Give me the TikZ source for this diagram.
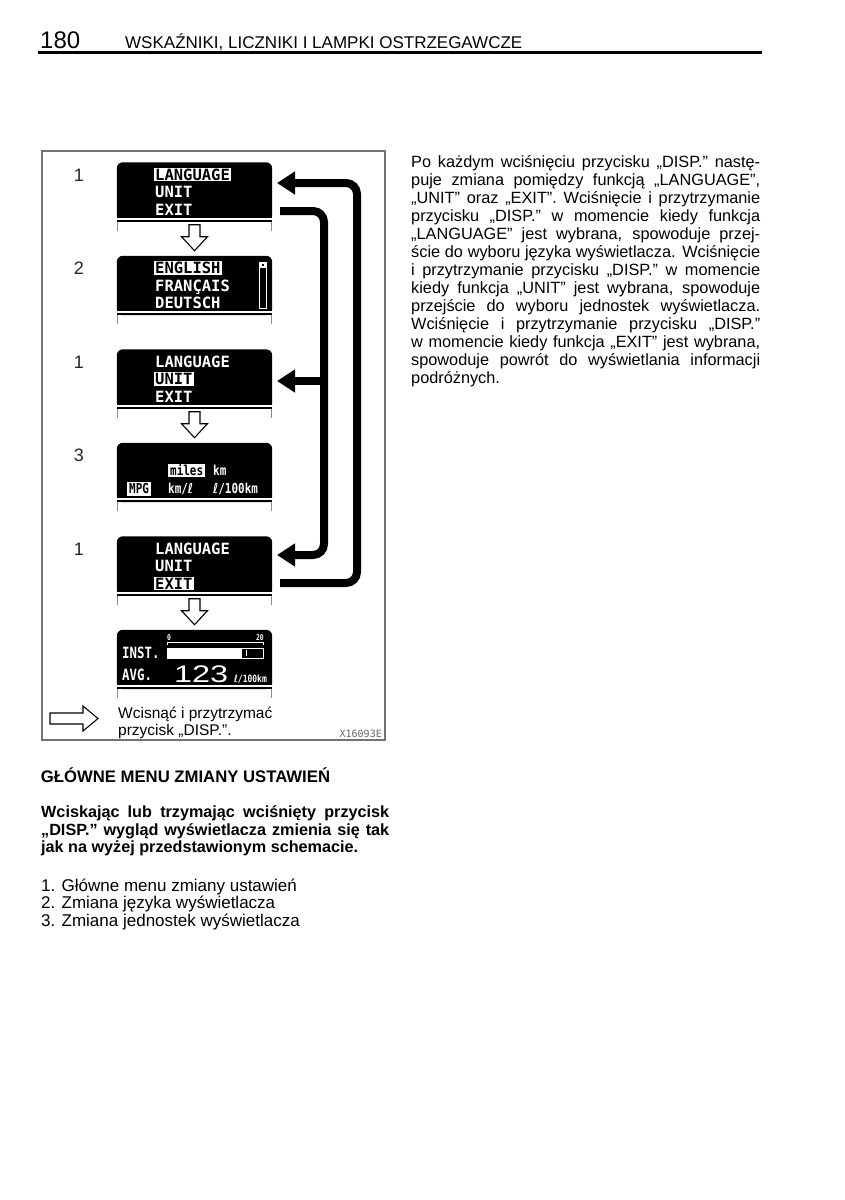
\documentclass[tikz,border=0pt]{standalone}
\usepackage{fontspec}
\usepackage{graphicx}
\setmainfont{Liberation Sans}
\newfontfamily\lcd{DejaVu Sans Mono}
\newfontfamily\lcdn{DejaVu Sans Mono}[FakeStretch=0.8]
\newfontfamily\lcdl{DejaVu Sans}[FakeStretch=0.8]
\newcommand\myell{{\lcdl\bfseries ℓ}}
\usetikzlibrary{arrows.meta}
\newcommand\jline[2]{\hbox to #1{#2}}
\begin{document}
\begin{tikzpicture}[x=1pt,y=-1pt,
  scr/.style={minimum width=155pt,minimum height=59pt,inner sep=0pt},
  lt/.style={anchor=base west,inner xsep=1.5pt,inner ysep=0.8pt,text=white,
     font={\lcd\bfseries\fontsize{15.5}{16}\selectfont},text height=11.3pt,text depth=0.4pt},
  hl/.style={lt,fill=white,text=black},
  lts/.style={anchor=base west,inner xsep=2pt,inner ysep=1.5pt,text=white,
     font={\lcdn\bfseries\fontsize{13.7}{15}\selectfont},text height=10pt,text depth=0.5pt},
  hls/.style={lts,fill=white,text=black},
  tiny/.style={inner sep=0pt,text=white,font={\lcdn\bfseries\fontsize{8}{9}\selectfont}},
  num/.style={font={\fontsize{18}{20}\selectfont},text=black!85,inner sep=0pt},
  loopline/.style={line width=8pt,rounded corners=11pt},
  tip/.style={-{Triangle[length=18pt,width=22pt]}},
  hollow/.style={draw=black,line width=1.1pt,fill=white,line join=miter},
  tick/.style={draw=black!45,line width=0.7pt},
  body/.style={anchor=base west,inner sep=0pt,font={\fontsize{16.3}{18}\selectfont}},
]
\useasboundingbox (0,0) rectangle (845,1200);
\fill[white] (0,0) rectangle (845,1200);

% header
\node[anchor=base west,inner sep=0pt,font={\fontsize{24}{26}\selectfont}] (pg) at (40,48) {180};
\node[anchor=base west,inner sep=0pt,font={\fontsize{17}{20}\selectfont}] (hd) at (125,48) {WSKAŹNIKI, LICZNIKI I LAMPKI OSTRZEGAWCZE};
\draw[line width=2.5pt] (38,52.5) -- (762,52.5);

% figure frame
\draw[black!55,line width=1.3pt] (42,151) rectangle (385,740);

% screens
\foreach \n/\T in {1/162.5,2/256,3/349.5,4/443,5/536.5,6/630}{
  \node[scr] (s\n) at (194.5,\T+29.5) {};
  \fill[black,rounded corners=6pt] (s\n.north west) rectangle (s\n.south east);
  \fill[black] ([yshift=12pt]s\n.west) rectangle (s\n.south east);
  \draw[white,line width=1.6pt] ([yshift=3pt]s\n.south west) -- ([yshift=3pt]s\n.south east);
  \draw[tick] ([xshift=1pt]s\n.south west) -- ++(0,9);
  \draw[tick] ([xshift=-1pt]s\n.south east) -- ++(0,9);
}

% step numbers
\node[num] (n1) at (79,175) {1};
\node[num] (n2) at (79,268.5) {2};
\node[num] (n3) at (79,362) {1};
\node[num] (n4) at (79,455.5) {3};
\node[num] (n5) at (79,549) {1};

% screen 1
\node[hl] (a1) at (153.5,180) {LANGUAGE};
\node[lt] (a2) at (153.5,197.5) {UNIT};
\node[lt] (a3) at (153.5,215) {EXIT};
% screen 2
\node[hl] (b1) at (153.5,273.5) {ENGLISH};
\node[lt] (b2) at (153.5,291) {FRANÇAIS};
\node[lt] (b3) at (153.5,308.5) {DEUTSCH};
\draw[white,line width=1pt] (259.5,262) rectangle (266.5,308);
\fill[white] (259.5,262) rectangle (266.5,268);
\fill[black] (262,264) rectangle (264,266);
% screen 3
\node[lt] (c1) at (153.5,367) {LANGUAGE};
\node[hl] (c2) at (153.5,384.5) {UNIT};
\node[lt] (c3) at (153.5,402) {EXIT};
% screen 4
\node[hls] (d1) at (168,475) {miles};
\node[lts] (d2) at (211,475) {km};
\node[hls] (d3) at (127,493.5) {MPG};
\node[lts] (d4) at (166,493.5) {km/\myell};
\node[lts] (d5) at (211,493.5) {\myell/100km};
% screen 5
\node[lt] (e1) at (153.5,554) {LANGUAGE};
\node[lt] (e2) at (153.5,571.5) {UNIT};
\node[hl] (e3) at (153.5,589) {EXIT};
% screen 6
\node[tiny,anchor=base west] (f0) at (167,640) {0};
\node[tiny,anchor=base east] (f20) at (264,640) {20};
\draw[white,line width=0.9pt] (167.5,645) -- (167.5,642.5) -- (263.5,642.5) -- (263.5,645);
\draw[white,line width=0.9pt] (167.5,648) rectangle (263.5,658);
\fill[white] (167.5,648) rectangle (242,658);
\draw[white,line width=1pt] (246,650) -- (246,656);
\node[lt,font={\lcdn\bfseries\fontsize{15.5}{16}\selectfont}] (f1) at (120.5,658) {INST.};
\node[lt,font={\lcdn\bfseries\fontsize{15.5}{16}\selectfont}] (f2) at (120.5,680) {AVG.};
\node[anchor=base west,inner sep=0pt,text=white,font={\fontsize{24}{26}\selectfont}] (f3) at (174,682) {\scalebox{1.35}[1]{123}};
\node[tiny,anchor=base west,font={\lcdn\bfseries\fontsize{10}{11}\selectfont}] (f4) at (234,682) {\myell/100km};

% hollow arrows between screens
\foreach \a in {1,3,5}{
  \draw[hollow] (s\a.south) ++(-5.5,3) -- ++(0,12) -- ++(-7.5,0) -- ++(13,14) -- ++(13,-14) -- ++(-7.5,0) -- ++(0,-12) -- cycle;
}

% black loop arrows
\coordinate (oS) at (280,583);
\coordinate (oT) at (277,183);
\coordinate (iS) at (280,211);
\coordinate (iT) at (277,555);
\coordinate (bS) at (324,381);
\coordinate (bT) at (277,381);
\draw[loopline,tip] (oS) -- (357,583) -- (357,183) -- (oT);
\draw[loopline,tip] (iS) -- (324,211) -- (324,555) -- (iT);
\draw[line width=8pt,tip] (bS) -- (bT);

% legend
\draw[hollow] (50,713) -- (83,713) -- (83,706) -- (98,718.5) -- (83,731) -- (83,724) -- (50,724) -- cycle;
\node[anchor=base west,inner sep=0pt,font={\fontsize{15.5}{16.7}\selectfont}] (lg) at (118,718.3)
  {\vtop{\hbox{Wcisnąć i przytrzymać}\hbox{przycisk „DISP.”.}}};
\node[anchor=base east,inner sep=0pt,text=black!60,font={\lcd\fontsize{10}{11}\selectfont}] (code) at (382,737) {X16093E};

% right column text
\node[body] (para) at (411,167.3) {\vtop{%
\jline{349pt}{Po każdym wciśnięciu przycisku „DISP.” nastę-}
\jline{349pt}{puje zmiana pomiędzy funkcją „LANGUAGE”,}
\jline{349pt}{„UNIT” oraz „EXIT”. Wciśnięcie i przytrzymanie}
\jline{349pt}{przycisku „DISP.” w momencie kiedy funkcja}
\jline{349pt}{„LANGUAGE” jest wybrana, spowoduje przej-}
\jline{349pt}{ście do wyboru języka wyświetlacza. Wciśnięcie}
\jline{349pt}{i przytrzymanie przycisku „DISP.” w momencie}
\jline{349pt}{kiedy funkcja „UNIT” jest wybrana, spowoduje}
\jline{349pt}{przejście do wyboru jednostek wyświetlacza.}
\jline{349pt}{Wciśnięcie i przytrzymanie przycisku „DISP.”}
\jline{349pt}{w momencie kiedy funkcja „EXIT” jest wybrana,}
\jline{349pt}{spowoduje powrót do wyświetlania informacji}
\hbox{podróżnych.}}};

% bottom left text
\node[anchor=base west,inner sep=0pt,font={\bfseries\fontsize{16.7}{18}\selectfont}] (h2) at (40.7,782.7) {GŁÓWNE MENU ZMIANY USTAWIEŃ};
\node[anchor=base west,inner sep=0pt,font={\bfseries\fontsize{16.2}{17.8}\selectfont}] (bp) at (41,817.3) {\vtop{%
\jline{348pt}{Wciskając lub trzymając wciśnięty przycisk}
\jline{348pt}{„DISP.” wygląd wyświetlacza zmienia się tak}
\hbox{jak na wyżej przedstawionym schemacie.}}};
\node[anchor=base west,inner sep=0pt,font={\fontsize{17}{17.8}\selectfont}] (li) at (41,891) {\vtop{%
\hbox{1. Główne menu zmiany ustawień}
\hbox{2. Zmiana języka wyświetlacza}
\hbox{3. Zmiana jednostek wyświetlacza}}};
\end{tikzpicture}
\end{document}
